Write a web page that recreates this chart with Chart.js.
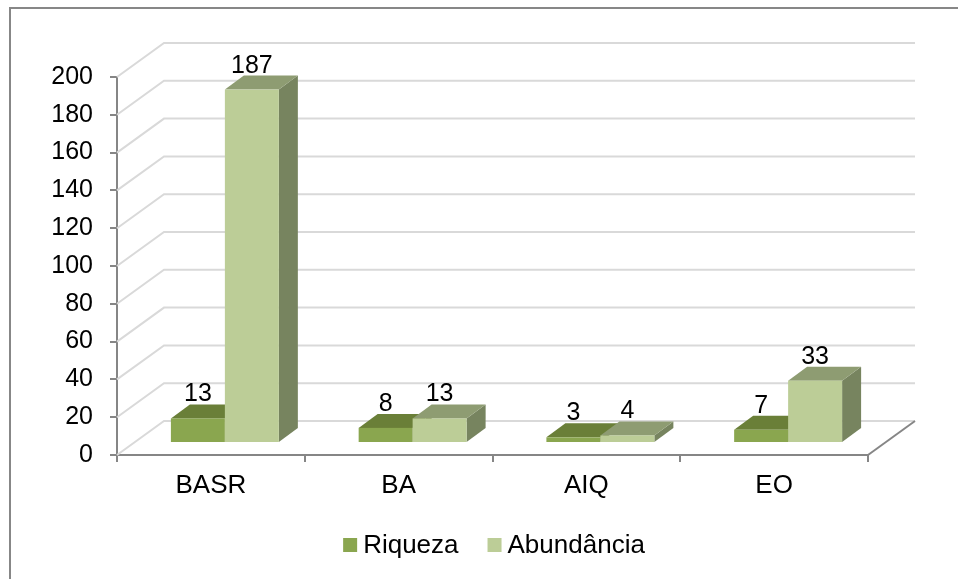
<!DOCTYPE html>
<html>
<head>
<meta charset="utf-8">
<script src="https://cdn.jsdelivr.net/npm/chart.js@4.4.1/dist/chart.umd.min.js"></script>
<style>
  html, body { margin: 0; padding: 0; background: #fff; }
  #wrap { position: relative; width: 958px; height: 579px; overflow: hidden; }
  #frame { position: absolute; left: 9px; top: 7px; width: 1000px; height: 640px; border: 2px solid #878787; }
  #chart { position: absolute; left: 0; top: 0; }
</style>
</head>
<body>
<div id="wrap">
  <div id="frame"></div>
  <canvas id="chart" width="958" height="579"></canvas>
</div>
<script>
const categories = ['BASR', 'BA', 'AIQ', 'EO'];
const riqueza = [13, 8, 3, 7];
const abundancia = [187, 13, 4, 33];
const yMin = 0, yMax = 200, yStep = 20;

// face colours per series: front / top / side
const shades = [
  { front: '#8aa64f', top: '#6a7f38', side: '#5e7131' },
  { front: '#bccd97', top: '#8e9c72', side: '#77845f' }
];

const DEPTH = { x: 47, y: -34 };     // how far the back wall sits from the front plane
const BAR_OFFSET = { x: 14, y: -12 }; // bars start this far into the depth
const BAR_DEPTH = { x: 19, y: -14 };  // and are this deep

function poly(ctx, pts, fill) {
  ctx.beginPath();
  ctx.moveTo(pts[0][0], pts[0][1]);
  for (let i = 1; i < pts.length; i++) ctx.lineTo(pts[i][0], pts[i][1]);
  ctx.closePath();
  ctx.fillStyle = fill;
  ctx.fill();
}

const box3d = {
  id: 'box3d',
  beforeDatasetsDraw(chart) {
    const { ctx, chartArea: a, scales: { y } } = chart;
    ctx.save();

    // grid on the side and back walls
    ctx.lineWidth = 2;
    ctx.strokeStyle = '#d9d9d9';
    for (let v = yMin; v <= yMax; v += yStep) {
      const py = y.getPixelForValue(v);
      ctx.beginPath();
      ctx.moveTo(a.left, py);
      ctx.lineTo(a.left + DEPTH.x, py + DEPTH.y);
      ctx.lineTo(a.right + DEPTH.x, py + DEPTH.y);
      ctx.stroke();
    }
    // right edge of the floor
    ctx.strokeStyle = '#868686';
    ctx.beginPath();
    ctx.moveTo(a.right, a.bottom);
    ctx.lineTo(a.right + DEPTH.x, a.bottom + DEPTH.y);
    ctx.stroke();

    const ox = BAR_OFFSET.x, oy = BAR_OFFSET.y;
    const dx = BAR_DEPTH.x, dy = BAR_DEPTH.y;
    const labels = [];

    categories.forEach((_, i) => {
      chart.data.datasets.forEach((ds, di) => {
        const bar = chart.getDatasetMeta(di).data[i];
        const l = bar.x - bar.width / 2 + ox;
        const r = bar.x + bar.width / 2 + ox;
        const t = bar.y + oy;
        const b = bar.base + oy;
        const c = shades[di];
        poly(ctx, [[r, t], [r + dx, t + dy], [r + dx, b + dy], [r, b]], c.side);
        poly(ctx, [[l, t], [l + dx, t + dy], [r + dx, t + dy], [r, t]], c.top);
        ctx.fillStyle = c.front;
        ctx.fillRect(l, t, r - l, b - t);
        labels.push({ text: String(ds.data[i]), x: (l + r) / 2, y: t + dy - 3 });
      });
    });

    ctx.fillStyle = '#000';
    ctx.font = '25px "Liberation Sans", Arial, sans-serif';
    ctx.textAlign = 'center';
    ctx.textBaseline = 'alphabetic';
    labels.forEach(lb => ctx.fillText(lb.text, lb.x, lb.y));

    ctx.restore();
    return false;
  },
  afterDraw(chart) {
    // legend below the axis
    const { ctx } = chart;
    ctx.save();
    ctx.font = '26px "Liberation Sans", Arial, sans-serif';
    ctx.textBaseline = 'alphabetic';
    ctx.textAlign = 'left';
    const box = 14, gap = 6, spacing = 29, baseY = 553;
    const items = chart.data.datasets.map((ds, i) => ({
      text: ds.label, color: shades[i].front, w: ctx.measureText(ds.label).width
    }));
    const total = items.reduce((s, it) => s + box + gap + it.w, 0) + spacing * (items.length - 1);
    let cx = 494 - total / 2;
    items.forEach(it => {
      ctx.fillStyle = it.color;
      ctx.fillRect(cx, baseY - 15, box, box);
      ctx.fillStyle = '#000';
      ctx.fillText(it.text, cx + box + gap, baseY);
      cx += box + gap + it.w + spacing;
    });
    ctx.restore();
  }
};

Chart.defaults.font.family = '"Liberation Sans", Arial, sans-serif';
Chart.defaults.color = '#000';

new Chart(document.getElementById('chart'), {
  type: 'bar',
  data: {
    labels: categories,
    datasets: [
      { label: 'Riqueza', data: riqueza, backgroundColor: shades[0].front },
      { label: 'Abundância', data: abundancia, backgroundColor: shades[1].front }
    ]
  },
  options: {
    responsive: false,
    animation: false,
    devicePixelRatio: 1,
    categoryPercentage: 0.575,
    barPercentage: 1,
    layout: { padding: { top: 77, right: 90, left: 0, bottom: 0 } },
    plugins: { legend: { display: false }, tooltip: { enabled: false } },
    scales: {
      x: {
        afterFit(scale) { scale.height = 124; },
        grid: { drawOnChartArea: false, tickLength: 7, color: '#868686', lineWidth: 2 },
        border: { color: '#868686', width: 2 },
        ticks: { font: { size: 26 }, padding: 8, color: '#000' }
      },
      y: {
        min: yMin,
        max: yMax,
        afterFit(scale) { scale.width = 117; },
        grid: { drawOnChartArea: false, tickLength: 7, color: '#868686', lineWidth: 2 },
        border: { color: '#868686', width: 2 },
        ticks: { stepSize: yStep, font: { size: 25 }, padding: 17, color: '#000' }
      }
    }
  },
  plugins: [box3d]
});
</script>
</body>
</html>
